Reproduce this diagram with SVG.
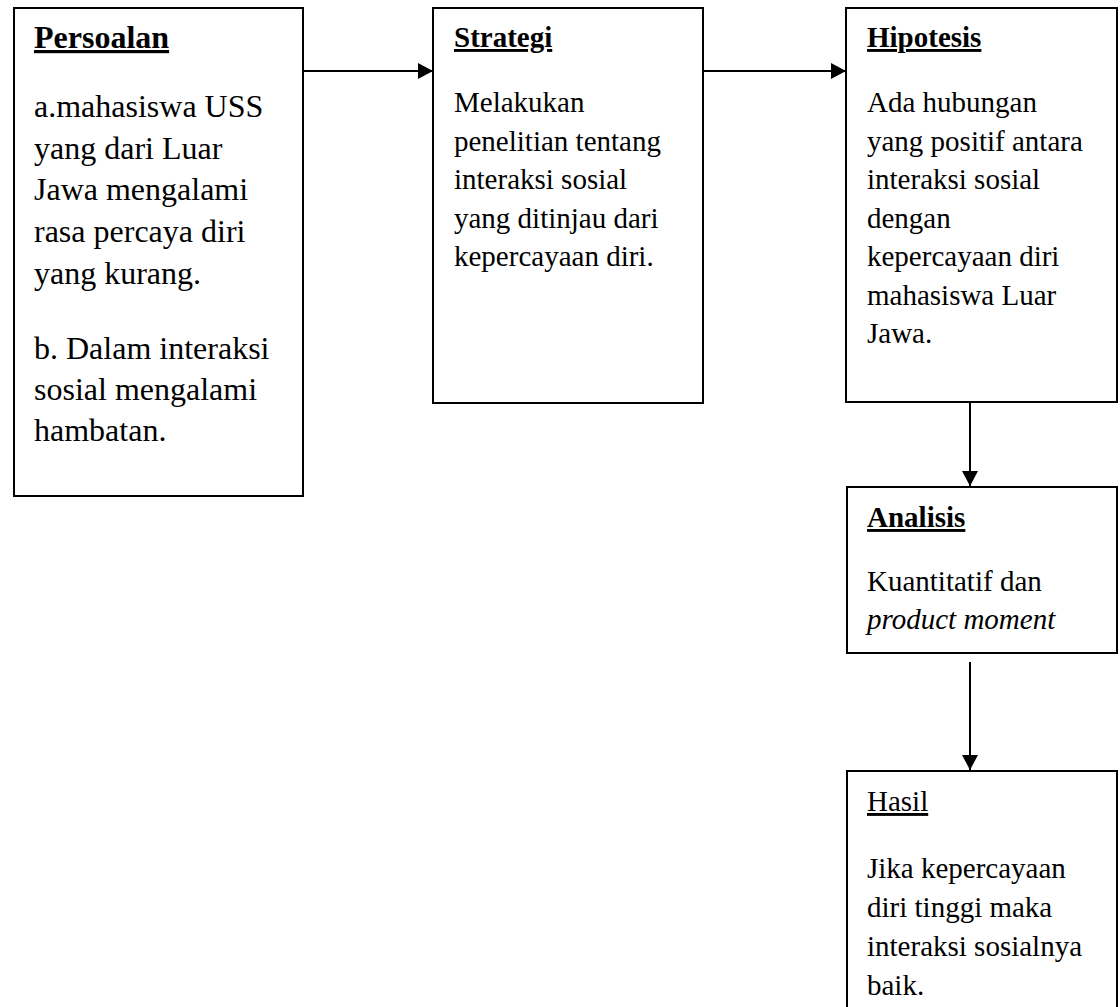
<svg xmlns="http://www.w3.org/2000/svg" width="1120" height="1007" viewBox="0 0 1120 1007">
<style>
.box{fill:#fff;stroke:#000;stroke-width:2}
.t{font-family:"Liberation Serif","Times New Roman",serif;fill:#000}
.h{font-weight:bold;text-decoration:underline}
.b1{font-size:32px}
.b{font-size:29px}
.conn{stroke:#000;stroke-width:2;fill:none}
</style>
<defs>
<marker id="ah" viewBox="0 0 15 16" refX="15" refY="8" markerWidth="15" markerHeight="16" markerUnits="userSpaceOnUse" orient="auto">
<path d="M0,0 L15,8 L0,16 Z" fill="#000"/>
</marker>
</defs>
<rect width="1120" height="1007" fill="#fff"/>
<g id="connectors">
<line class="conn" x1="303" y1="71" x2="433" y2="71" marker-end="url(#ah)"/>
<line class="conn" x1="703" y1="71" x2="846" y2="71" marker-end="url(#ah)"/>
<line class="conn" x1="970" y1="402" x2="970" y2="486" marker-end="url(#ah)"/>
<line class="conn" x1="970" y1="662" x2="970" y2="770" marker-end="url(#ah)"/>
</g>
<g id="persoalan">
<rect class="box" x="14" y="8" width="289" height="488"/>
<text class="t h b1" x="34" y="48">Persoalan</text>
<text class="t b1" x="34" y="117">a.mahasiswa USS</text>
<text class="t b1" x="34" y="159">yang dari Luar</text>
<text class="t b1" x="34" y="200">Jawa mengalami</text>
<text class="t b1" x="34" y="242">rasa percaya diri</text>
<text class="t b1" x="34" y="284">yang kurang.</text>
<text class="t b1" x="34" y="359">b. Dalam interaksi</text>
<text class="t b1" x="34" y="400">sosial mengalami</text>
<text class="t b1" x="34" y="441">hambatan.</text>
</g>
<g id="strategi">
<rect class="box" x="433" y="8" width="270" height="395"/>
<text class="t h b" x="454" y="47">Strategi</text>
<text class="t b" x="454" y="112">Melakukan</text>
<text class="t b" x="454" y="151">penelitian tentang</text>
<text class="t b" x="454" y="189">interaksi sosial</text>
<text class="t b" x="454" y="228">yang ditinjau dari</text>
<text class="t b" x="454" y="266">kepercayaan diri.</text>
</g>
<g id="hipotesis">
<rect class="box" x="846" y="8" width="271" height="394"/>
<text class="t h b" x="867" y="47">Hipotesis</text>
<text class="t b" x="867" y="112">Ada hubungan</text>
<text class="t b" x="867" y="151">yang positif antara</text>
<text class="t b" x="867" y="189">interaksi sosial</text>
<text class="t b" x="867" y="228">dengan</text>
<text class="t b" x="867" y="266">kepercayaan diri</text>
<text class="t b" x="867" y="305">mahasiswa Luar</text>
<text class="t b" x="867" y="343">Jawa.</text>
</g>
<g id="analisis">
<rect class="box" x="847" y="487" width="270" height="166"/>
<text class="t h b" x="867" y="527">Analisis</text>
<text class="t b" x="867" y="591">Kuantitatif dan</text>
<text class="t b" x="867" y="629" font-style="italic">product moment</text>
</g>
<g id="hasil">
<rect class="box" x="847" y="771" width="270" height="250"/>
<text class="t b" x="867" y="811" text-decoration="underline">Hasil</text>
<text class="t b" x="867" y="878">Jika kepercayaan</text>
<text class="t b" x="867" y="917">diri tinggi maka</text>
<text class="t b" x="867" y="956">interaksi sosialnya</text>
<text class="t b" x="867" y="995">baik.</text>
</g>
</svg>
